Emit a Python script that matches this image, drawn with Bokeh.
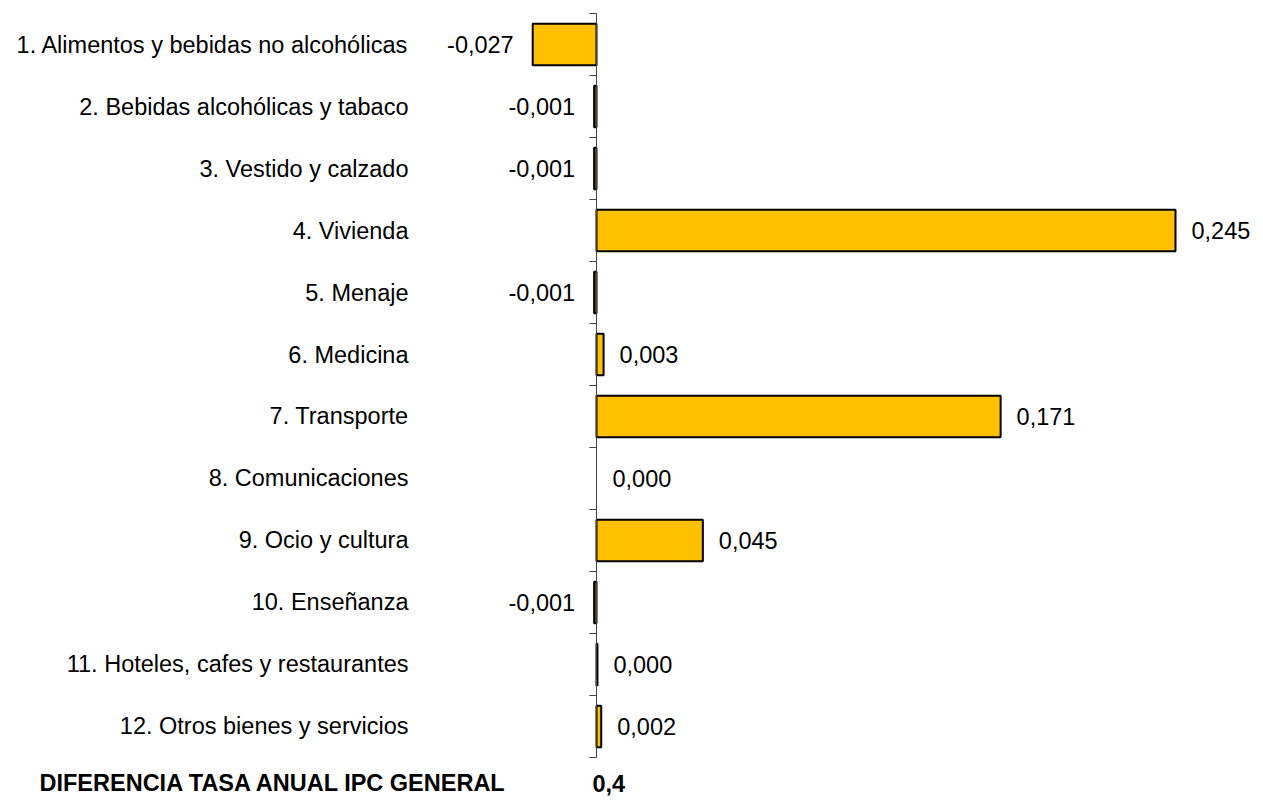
from bokeh.plotting import figure
from bokeh.models import ColumnDataSource, Range1d
from bokeh.core.properties import value
from bokeh.embed import file_html
from bokeh.resources import INLINE

# ---- data ----
categories = [
    "1. Alimentos y bebidas no alcohólicas",
    "2. Bebidas alcohólicas y tabaco",
    "3. Vestido y calzado",
    "4. Vivienda",
    "5. Menaje",
    "6. Medicina",
    "7. Transporte",
    "8. Comunicaciones",
    "9. Ocio y cultura",
    "10. Enseñanza",
    "11. Hoteles, cafes y restaurantes",
    "12. Otros bienes y servicios",
]
values = [-0.027, -0.001, -0.001, 0.245, -0.001, 0.003, 0.171, 0.000, 0.045, -0.001, 0.0004, 0.002]
total_label = "DIFERENCIA TASA ANUAL IPC GENERAL"
total_value = "0,4"

FONT = "Liberation Sans"
FS = "23.5px"
BAR_COLOR = "#FFC000"
AXIS_COLOR = "#404040"


def fmt(v):
    return f"{v:.3f}".replace(".", ",")


n = len(categories)
ypos = [n - 1 - i for i in range(n)]          # first category on top
bounds = [y - 0.5 for y in ypos] + [ypos[0] + 0.5]

p = figure(
    width=1255, height=801,
    x_range=Range1d(-0.25219, 0.27885),
    y_range=Range1d(-1.2097, 11.7097),
    x_axis_location=None, y_axis_location=None,
    output_backend="svg", toolbar_location=None,
    min_border_left=0, min_border_right=0, min_border_top=0, min_border_bottom=0,
)
p.outline_line_color = None
p.xgrid.visible = False
p.ygrid.visible = False

# bars
bar_src = ColumnDataSource(dict(
    y=ypos,
    val=values,
    la=[0.0 if v == 0 else 1.0 for v in values],
))
p.hbar(y="y", left=0, right="val", height=0.67, source=bar_src,
       fill_color=BAR_COLOR, line_color="black", line_width=2, line_alpha="la")

# vertical axis at zero with ticks at category boundaries
p.segment(x0=[0], x1=[0], y0=[min(bounds)], y1=[max(bounds)], line_color=AXIS_COLOR, line_width=1)
TICK = -0.003
p.segment(x0=[0] * len(bounds), x1=[TICK] * len(bounds), y0=bounds, y1=bounds,
          line_color=AXIS_COLOR, line_width=1)

# category labels
cat_src = ColumnDataSource(dict(y=ypos, x=[0] * n, lbl=categories))
p.text(x="x", y="y", text="lbl", source=cat_src, x_offset=-188, text_align="right",
       text_baseline="middle", text_font=value(FONT), text_font_size=FS, text_color="black")

# value labels
pos = [(y, v) for y, v in zip(ypos, values) if v >= 0]
neg = [(y, v) for y, v in zip(ypos, values) if v < 0]
pos_src = ColumnDataSource(dict(y=[a for a, _ in pos], val=[v for _, v in pos], lbl=[fmt(v) for _, v in pos]))
neg_src = ColumnDataSource(dict(y=[a for a, _ in neg], val=[v for _, v in neg], lbl=[fmt(v) for _, v in neg]))
p.text(x="val", y="y", text="lbl", source=pos_src, x_offset=16, text_align="left", text_baseline="middle",
       text_font=value(FONT), text_font_size=FS, text_color="black")
p.text(x="val", y="y", text="lbl", source=neg_src, x_offset=-19, text_align="right", text_baseline="middle",
       text_font=value(FONT), text_font_size=FS, text_color="black")

# bottom summary line (below the last category)
p.text(x=[0], y=[ypos[-1]], text=[total_label], x_offset=-557, y_offset=57,
       text_align="left", text_baseline="middle", text_font=value(FONT), text_font_size=FS,
       text_font_style="bold", text_color="black")
p.text(x=[0], y=[ypos[-1]], text=[total_value], x_offset=-4, y_offset=57,
       text_align="left", text_baseline="middle", text_font=value(FONT), text_font_size=FS,
       text_font_style="bold", text_color="black")

open("out.html", "w").write(file_html(p, INLINE))
